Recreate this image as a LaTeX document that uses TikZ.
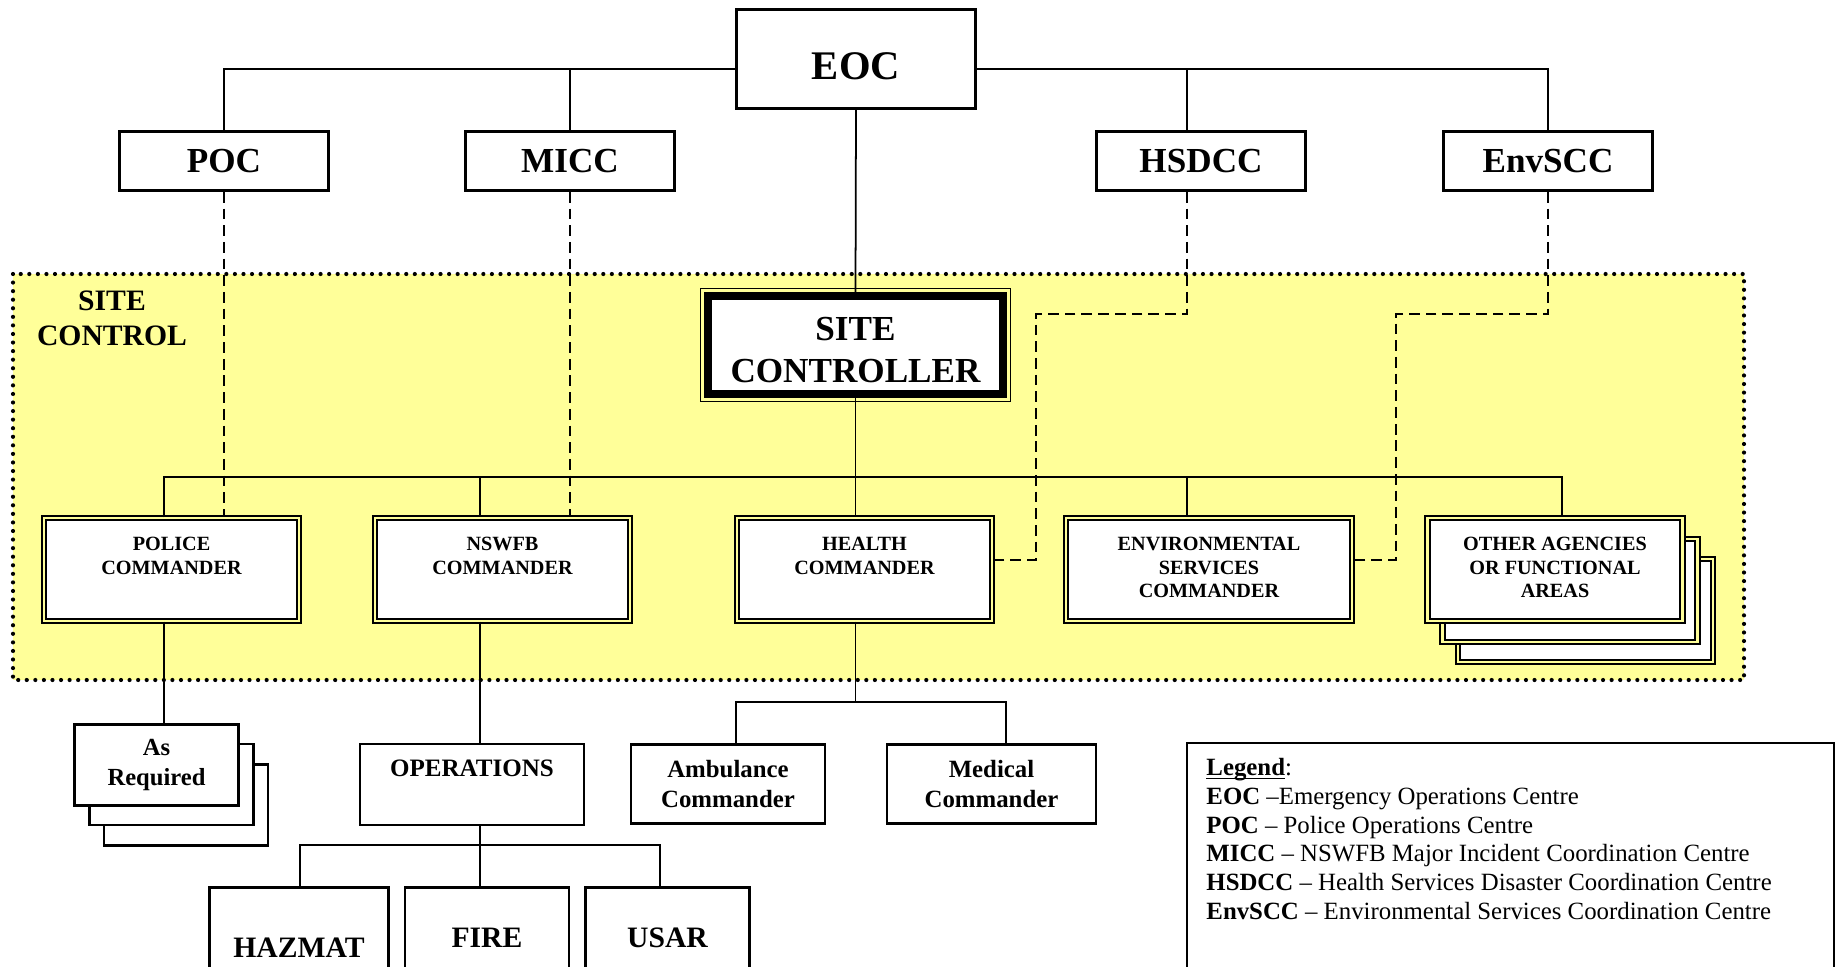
\documentclass[tikz,border=0pt]{standalone}
\usepackage{fontspec}
\setmainfont{Liberation Serif}
\usepackage{tikz}
\usetikzlibrary{positioning, calc}
\definecolor{siteyellow}{RGB}{255,255,153}
\tikzset{
  topbox/.style={rectangle, draw=black, fill=white, line width=1.3pt,
    inner sep=0pt, minimum width=33.4mm, minimum height=9.4mm,
    font=\fontsize{16}{18}\selectfont\bfseries},
  eocbox/.style={topbox, minimum width=38.2mm, minimum height=15.8mm,
    font=\fontsize{18.5}{20}\selectfont\bfseries, text height=18.6pt, text depth=0pt},
  sitebox/.style={rectangle, draw=black, fill=white, line width=3.3pt,
    inner sep=0pt, minimum width=47.2mm, minimum height=15.7mm, align=center,
    font=\fontsize{16}{19.1}\selectfont\bfseries},
  cmdbox/.style={rectangle, draw=black, double=siteyellow, double distance=1.1pt,
    line width=0.9pt, fill=white, minimum width=40.8mm, minimum height=16.4mm},
  cmdtext/.style={inner sep=0pt, align=center,
    font=\fontsize{9.2}{10.6}\selectfont\bfseries},
  subbox/.style={rectangle, draw=black, fill=white, line width=1.1pt,
    inner sep=0pt, align=center, font=\fontsize{11.3}{13.7}\selectfont\bfseries},
  reqbox/.style={subbox, minimum width=26.3mm, minimum height=12.9mm},
  teambox/.style={subbox, minimum width=26.2mm, minimum height=16.2mm,
    font=\fontsize{13.5}{15}\selectfont\bfseries},
  link/.style={line width=0.8pt, color=black},
  dashlink/.style={line width=0.9pt, color=black, dash pattern=on 4.9pt off 2.7pt},
  sitearea/.style={fill=siteyellow, draw=black, line width=1.9pt,
    line cap=round, dash pattern=on 0pt off 3.9pt}
}

\begin{document}
\begin{tikzpicture}[x=0.16mm, y=-0.16mm]
  \useasboundingbox (0,0) rectangle (1835,967);
  \clip (0,0) rectangle (1835,967);

  % Site control area
  \draw[sitearea] (13,274) rectangle (1744,680);
  \node[anchor=north, inner sep=0pt, align=center,
    font=\fontsize{13.5}{15.9}\selectfont\bfseries] (sitelbl) at (112,290) {SITE\\CONTROL};

  % Coordinates
  \coordinate (topbus) at (855,69);
  \coordinate (pdrop) at (164,477);
  \coordinate (ndrop) at (480,477);
  \coordinate (edrop) at (1187,477);
  \coordinate (odrop) at (1562,477);
  \coordinate (hsbend) at (1036,314);
  \coordinate (hsend) at (1036,560);
  \coordinate (envbend) at (1396,314);
  \coordinate (envend) at (1396,560);
  \coordinate (hlbus) at (855.5,702);
  \coordinate (ambdrop) at (736,702);
  \coordinate (meddrop) at (1006,702);
  \coordinate (hzdrop) at (300,845);
  \coordinate (usdrop) at (660,845);

  % Coordination centres
  \node[eocbox] (eoc) at (856,59) {EOC};
  \node[topbox] (poc) at (224,161) {POC};
  \node[topbox] (micc) at (570,161) {MICC};
  \node[topbox] (hsdcc) at (1201,161) {HSDCC};
  \node[topbox] (envscc) at (1548,161) {EnvSCC};

  % Site controller
  \node[sitebox] (sc) at (855.5,345) {\rule{0pt}{15pt}SITE\\CONTROLLER};
  \draw[line width=0.7pt] ([shift={(-4,4)}]sc.south west) rectangle ([shift={(4,-4)}]sc.north east);

  % Commanders
  \node[cmdbox] (police) at (171.5,569.5) {};
  \node[cmdbox] (nswfb) at (502.5,569.5) {};
  \node[cmdbox] (health) at (864.5,569.5) {};
  \node[cmdbox, minimum width=45.7mm] (envcmd) at (1209,569.5) {};
  \node[cmdbox] (other3) at (1585.5,610.5) {};
  \node[cmdbox] (other2) at (1570,590.5) {};
  \node[cmdbox] (other) at (1555,569.5) {};
  \node[cmdtext, below=9pt of police.north] (policetxt) {POLICE\\COMMANDER};
  \node[cmdtext, below=9pt of nswfb.north] (nswfbtxt) {NSWFB\\COMMANDER};
  \node[cmdtext, below=9pt of health.north] (healthtxt) {HEALTH\\COMMANDER};
  \node[cmdtext, below=9pt of envcmd.north] (envtxt) {ENVIRONMENTAL\\SERVICES\\COMMANDER};
  \node[cmdtext, below=9pt of other.north] (othertxt) {OTHER AGENCIES\\OR FUNCTIONAL\\AREAS};

  % Below site control
  \node[reqbox] (asreq3) at (186,805) {};
  \node[reqbox] (asreq2) at (171.5,784.5) {};
  \node[reqbox, font=\fontsize{11.2}{13.7}\selectfont\bfseries] (asreq) at (156.5,765) {As\\Required};
  \node[subbox, minimum width=35.8mm, minimum height=12.9mm] (ops) at (472,784.5) {};
  \node[cmdtext, font=\fontsize{11.4}{13}\selectfont\bfseries, below=7.7pt of ops.north] (opstxt) {OPERATIONS};
  \node[subbox, minimum width=31mm, minimum height=12.7mm] (amb) at (728,784) {Ambulance\\Commander};
  \node[subbox, minimum width=33.4mm, minimum height=12.7mm] (med) at (991.5,784) {Medical\\Commander};
  \node[teambox, minimum width=28.7mm, minimum height=19.4mm] (hazmat) at (299,948) {HAZMAT};
  \node[teambox] (fire) at (487,938) {FIRE};
  \node[teambox] (usar) at (667.5,938) {USAR};

  % Legend
  \node[draw, line width=0.8pt, inner sep=0pt, outer sep=0pt, anchor=north west,
    minimum width=103.5mm, minimum height=40mm] (legend) at (1187,743) {};
  \node[anchor=north west, inner sep=0pt, align=left,
    font=\fontsize{11.3}{13.07}\selectfont] (legendtxt) at (1206,758) {%
    \textbf{\underline{\raisebox{0pt}[\height][0pt]{Legend}}}:\\
    \textbf{EOC} \textendash Emergency Operations Centre\\
    \textbf{POC} \textendash{} Police Operations Centre\\
    \textbf{MICC} \textendash{} NSWFB Major Incident Coordination Centre\\
    \textbf{HSDCC} \textendash{} Health Services Disaster Coordination Centre\\
    \textbf{EnvSCC} \textendash{} Environmental Services Coordination Centre};

  % Lines of command
  \draw[link] (poc.north) |- (eoc.west |- topbus);
  \draw[link] (micc.north) -- (micc.north |- topbus);
  \draw[link] (eoc.east |- topbus) -| (envscc.north);
  \draw[link] (hsdcc.north -| edrop) -- (edrop |- topbus);
  \draw[link] (eoc.south) -- (sc.north);
  \draw[link] (sc.south) -- (health.north -| sc.south);
  \draw[link] (police.north -| pdrop) -- (pdrop) -- (odrop) -- (other.north -| odrop);
  \draw[link] (ndrop) -- (nswfb.north -| ndrop);
  \draw[link] (edrop) -- (envcmd.north -| edrop);

  % Liaison (dashed)
  \draw[dashlink] (poc.south) -- (police.north -| poc.south);
  \draw[dashlink] (micc.south) -- (nswfb.north -| micc.south);
  \draw[dashlink] (hsdcc.south -| edrop) |- (hsbend) -- (hsend) -- (health.east |- hsend);
  \draw[dashlink] (envscc.south) |- (envbend) -- (envend) -- (envcmd.east |- envend);

  % Lower levels
  \draw[link] (police.south -| pdrop) -- (asreq.north -| pdrop);
  \draw[link] (nswfb.south -| ndrop) -- (ops.north -| ndrop);
  \draw[link] (health.south -| hlbus) -- (hlbus);
  \draw[link] (amb.north -| ambdrop) -- (ambdrop) -- (meddrop) -- (med.north -| meddrop);
  \draw[link] (ops.south -| ndrop) -- (fire.north -| ndrop);
  \draw[link] (hazmat.north -| hzdrop) -- (hzdrop) -- (usdrop) -- (usar.north -| usdrop);
\end{tikzpicture}
\end{document}
